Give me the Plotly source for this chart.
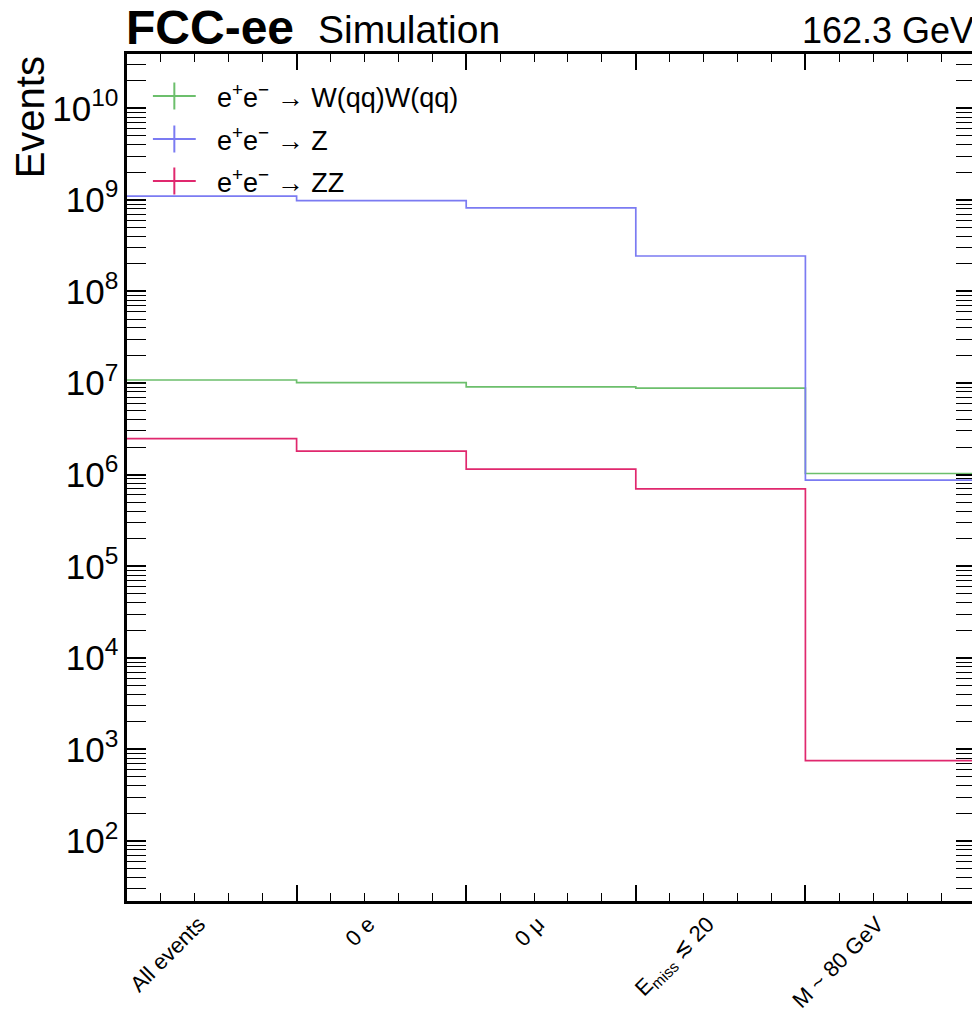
import plotly.graph_objects as go

categories = ["All events", "0 e", "0 μ", "E<sub>miss</sub> ≲ 20", "M ~ 80 GeV"]
bin_edges = [0, 1, 2, 3, 4, 5]

ww_qqqq = [1.08e7, 1.01e7, 9.1e6, 8.8e6, 1.03e6]
z_incl = [1.10e9, 9.8e8, 8.2e8, 2.44e8, 8.7e5]
zz = [2.48e6, 1.81e6, 1.15e6, 7.0e5, 755]

series = [
    ("e<sup>+</sup>e<sup>−</sup> → W(qq)W(qq)", ww_qqqq, "#6cbf6c"),
    ("e<sup>+</sup>e<sup>−</sup> → Z", z_incl, "#7b7bf2"),
    ("e<sup>+</sup>e<sup>−</sup> → ZZ", zz, "#e0286e"),
]

FONT = "Liberation Sans, Arial, Helvetica, sans-serif"
# page has an 8px body margin; compensate so the plot lands where the reference has it
OFF = 8
W, H = 980 - OFF, 1024 - OFF
L, T = 127 - OFF, 54 - OFF
PW, PH = 851, 847
R = W - L - PW
B = H - T - PH

fig = go.Figure()

for name, vals, col in series:
    fig.add_trace(go.Scatter(
        x=bin_edges, y=list(vals) + [vals[-1]], mode="lines",
        line=dict(color=col, width=1.7, shape="hv"), name=name,
        showlegend=False, hoverinfo="skip"))

centers = [(bin_edges[i] + bin_edges[i + 1]) / 2 for i in range(len(categories))]
fig.add_trace(go.Scatter(x=centers, y=[None] * len(centers), xaxis="x2",
                         showlegend=False, hoverinfo="skip"))

fig.update_layout(
    width=W, height=H,
    margin=dict(l=L, r=R, t=T, b=B),
    paper_bgcolor="white", plot_bgcolor="white",
    font=dict(family=FONT, color="black"),
    xaxis=dict(
        range=[0, 5], tickmode="array", tickvals=[1, 2, 3, 4],
        showticklabels=False, ticks="inside", ticklen=16, tickwidth=1.5,
        tickcolor="black", showgrid=False, zeroline=False,
        showline=True, linewidth=3, linecolor="black", mirror="allticks",
        minor=dict(tickmode="linear", tick0=0, dtick=0.2, ticks="inside",
                   ticklen=8, tickwidth=1.2, tickcolor="black", showgrid=False),
    ),
    xaxis2=dict(
        range=[0, 5], overlaying="x", anchor="y", side="bottom",
        tickmode="array", tickvals=centers, ticktext=categories,
        ticks="", tickangle=-45, showgrid=False, zeroline=False,
        showline=False, ticklabelshift=-13, ticklabelstandoff=5,
        tickfont=dict(size=22, family=FONT, color="black"),
    ),
    yaxis=dict(
        type="log", range=[1.345, 10.593], dtick=1,
        exponentformat="power", showexponent="all",
        ticks="inside", ticklen=19, tickwidth=1.5, tickcolor="black",
        showgrid=False, zeroline=False,
        showline=True, linewidth=3, linecolor="black", mirror="allticks",
        tickfont=dict(size=28, family=FONT, color="black"),
        minor=dict(ticks="inside", ticklen=10, tickwidth=1.2,
                   tickcolor="black", dtick="D1", showgrid=False),
    ),
)


def px_x(page_x):
    return (page_x - OFF - L) / PW


def px_y(page_y):
    return 1 - (page_y - OFF - T) / PH


# Title annotations
fig.add_annotation(xref="paper", yref="paper", x=0, xshift=-2, y=1, yshift=-1,
                   xanchor="left", yanchor="bottom", showarrow=False, borderpad=0,
                   text="<b>FCC-ee</b>", font=dict(size=48, family=FONT))
fig.add_annotation(xref="paper", yref="paper", x=px_x(317), y=1, yshift=1,
                   xanchor="left", yanchor="bottom", showarrow=False,
                   text="Simulation", font=dict(size=39, family=FONT))
fig.add_annotation(xref="paper", yref="paper", x=1, xshift=1, y=1, yshift=1,
                   xanchor="right", yanchor="bottom", showarrow=False,
                   text="162.3 GeV", font=dict(size=36, family=FONT))
# Y axis title
fig.add_annotation(xref="paper", yref="paper", x=px_x(30), y=px_y(54),
                   xanchor="center", yanchor="top", showarrow=False, textangle=-90,
                   text="Events", font=dict(size=40, family=FONT))

# Manual legend with error-bar crosses
leg_y_px = [96, 139, 181]
for (name, vals, col), ypx in zip(series, leg_y_px):
    yp = px_y(ypx)
    fig.add_shape(type="line", xref="paper", yref="paper",
                  x0=px_x(153), x1=px_x(196), y0=yp, y1=yp,
                  line=dict(color=col, width=2))
    fig.add_shape(type="line", xref="paper", yref="paper",
                  x0=px_x(174.5), x1=px_x(174.5),
                  y0=yp - 13.5 / PH, y1=yp + 13.5 / PH,
                  line=dict(color=col, width=2))
    fig.add_annotation(xref="paper", yref="paper", x=px_x(215), y=yp,
                       xanchor="left", yanchor="middle", showarrow=False,
                       text=name, font=dict(size=27, family=FONT))

fig.write_html("out.html")
